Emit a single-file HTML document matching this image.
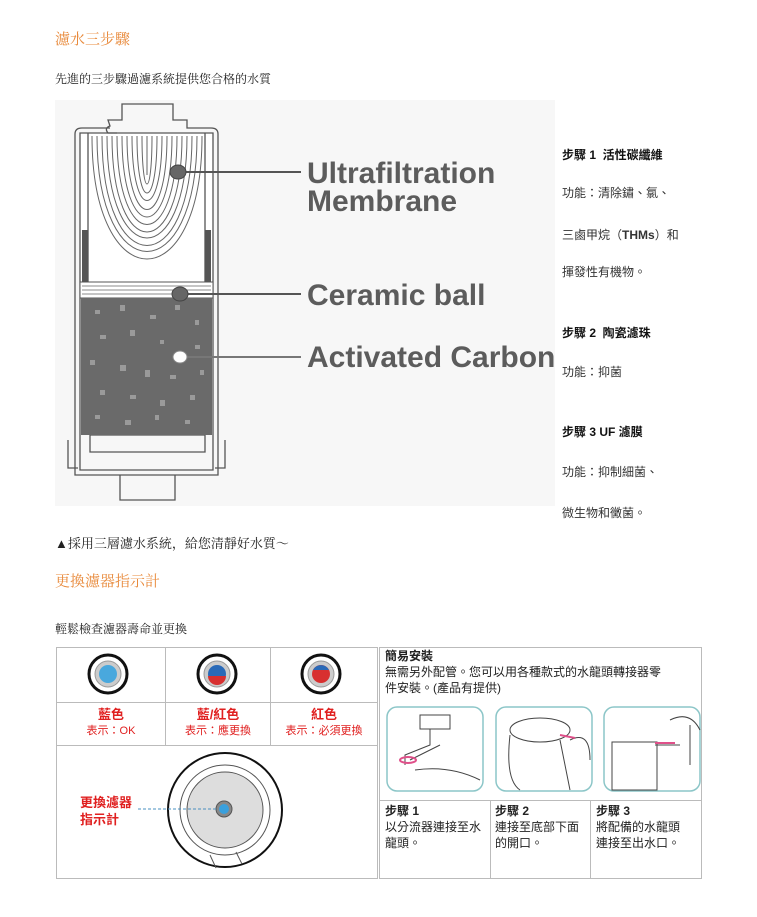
<!DOCTYPE html>
<html><head><meta charset="utf-8">
<style>
body{margin:0;background:#fff;width:757px;height:917px;position:relative;overflow:hidden;font-family:"Liberation Serif","Noto Serif CJK SC",serif;}
.a{position:absolute;white-space:nowrap;}
.t{color:#e8893a;font-size:15px;}
.p{color:#222;font-size:12px;}
.r{font-family:"Liberation Sans","Noto Sans CJK TC",sans-serif;font-size:12px;color:#333;}
.b{font-weight:bold;color:#111;}
.red{color:#e02020;font-family:"Liberation Sans","Noto Sans CJK TC",sans-serif;text-align:center;}
.s{font-family:"Liberation Sans","Noto Sans CJK TC",sans-serif;font-size:12px;color:#222;line-height:16px;}
</style></head><body>
<div class="a t" style="left:55px;top:28px;">濾水三步驟</div>
<div class="a p" style="left:55px;top:70px;">先進的三步驟過濾系統提供您合格的水質</div>

<svg class="a" style="left:55px;top:100px" width="500" height="406" viewBox="55 100 500 406">
<rect x="55" y="100" width="500" height="406" fill="#f7f7f7"/>
<rect x="80" y="133" width="133" height="150" fill="#fff"/>
<g fill="none" stroke="#555" stroke-width="1.3">
<path d="M117 133 L108 133 Q104 128 110 126 L108 120 L122 120 L122 104 L173 104 L173 120 L187 120 L187 128 L211 128 Q218 128 218 134 L218 475 L75 475 L75 134 Q75 128 82 128 L110 128"/>
<path d="M80 133 L213 133 L213 470 L80 470 Z"/>
<path d="M88 133 L88 290 M205 133 L205 290"/>
<path d="M90 435 L205 435 L205 452 L90 452 Z"/>
<path d="M68 440 L68 468 L78 468 M225 440 L225 468 L215 468"/>
<path d="M120 475 L120 500 L175 500 L175 475"/>
</g>
<rect x="82" y="230" width="6" height="60" fill="#555"/><rect x="205" y="230" width="6" height="60" fill="#555"/>
<g fill="none" stroke="#666" stroke-width="1">
<path d="M92 136 C92 300 202 300 202 136"/><path d="M97 136 C97 290 197 290 197 136"/>
<path d="M102 136 C102 282 192 282 192 136"/><path d="M107 136 C107 272 187 272 187 136"/>
<path d="M112 136 C112 264 182 264 182 136"/><path d="M117 136 C117 254 177 254 177 136"/>
<path d="M122 136 C122 244 172 244 172 136"/><path d="M127 136 C127 234 167 234 167 136"/>
<path d="M132 136 C132 222 162 222 162 136"/><path d="M137 136 C137 212 157 212 157 136"/>
<path d="M142 136 C142 200 152 200 152 136"/><path d="M147 136 L147 175"/>
</g>
<rect x="80" y="282" width="133" height="16" fill="#fff" stroke="#555"/>
<g fill="none" stroke="#666" stroke-width="0.8">
<path d="M82 286 H211 M82 290 H211 M82 294 H211"/>
</g>
<rect x="81" y="298" width="131" height="137" fill="#6a6a6a"/>
<g fill="#9a9a9a">
<rect x="95" y="310" width="5" height="4"/><rect x="120" y="305" width="5" height="6"/><rect x="150" y="315" width="6" height="4"/><rect x="175" y="305" width="5" height="5"/><rect x="195" y="320" width="4" height="5"/>
<rect x="100" y="335" width="6" height="4"/><rect x="130" y="330" width="5" height="6"/><rect x="160" y="340" width="4" height="4"/><rect x="195" y="345" width="5" height="4"/>
<rect x="90" y="360" width="5" height="5"/><rect x="120" y="365" width="6" height="6"/><rect x="145" y="370" width="5" height="7"/><rect x="170" y="375" width="6" height="4"/><rect x="200" y="370" width="4" height="5"/>
<rect x="100" y="390" width="5" height="5"/><rect x="130" y="395" width="6" height="4"/><rect x="160" y="400" width="5" height="6"/><rect x="190" y="395" width="5" height="5"/>
<rect x="95" y="415" width="5" height="4"/><rect x="125" y="420" width="6" height="5"/><rect x="155" y="415" width="4" height="5"/><rect x="185" y="420" width="5" height="4"/>
</g>
<g stroke="#555" stroke-width="2"><line x1="180" y1="172" x2="301" y2="172"/><line x1="182" y1="294" x2="301" y2="294"/><line x1="186" y1="357" x2="301" y2="357" stroke="#777"/></g>
<ellipse cx="178" cy="172" rx="8" ry="7" fill="#666" stroke="#444"/>
<ellipse cx="180" cy="294" rx="8" ry="7" fill="#666" stroke="#444"/>
<ellipse cx="180" cy="357" rx="7" ry="6" fill="#fff" stroke="#888"/>
<g font-family="Liberation Sans, sans-serif" font-weight="bold" font-size="30" fill="#5c5c5c">
<text x="307" y="183">Ultrafiltration</text><text x="307" y="211">Membrane</text>
<text x="307" y="305">Ceramic ball</text><text x="307" y="367">Activated Carbon</text>
</g>
</svg>

<div class="a r b" style="left:562px;top:146px;">步驟 1 &nbsp;活性碳纖維</div>
<div class="a r" style="left:562px;top:184px;">功能：清除鏽、氯、</div>
<div class="a r" style="left:562px;top:226px;">三鹵甲烷（<b>THMs</b>）和</div>
<div class="a r" style="left:562px;top:263px;">揮發性有機物。</div>
<div class="a r b" style="left:562px;top:324px;">步驟 2 &nbsp;陶瓷濾珠</div>
<div class="a r" style="left:562px;top:363px;">功能：抑菌</div>
<div class="a r b" style="left:562px;top:423px;">步驟 3 UF 濾膜</div>
<div class="a r" style="left:562px;top:463px;">功能：抑制細菌、</div>
<div class="a r" style="left:562px;top:504px;">微生物和黴菌。</div>

<div class="a p" style="left:55px;top:533px;font-size:13px;">▲採用三層濾水系統，給您清靜好水質～</div>
<div class="a t" style="left:55px;top:570px;">更換濾器指示計</div>
<div class="a p" style="left:55px;top:620px;">輕鬆檢查濾器壽命並更換</div>

<svg class="a" style="left:0;top:0" width="757" height="917">
<g fill="none" stroke="#bbb" stroke-width="1">
<rect x="56.5" y="647.5" width="321" height="231"/>
<line x1="56" y1="702.5" x2="378" y2="702.5"/><line x1="56" y1="745.5" x2="378" y2="745.5"/>
<line x1="165.5" y1="647" x2="165.5" y2="745"/><line x1="270.5" y1="647" x2="270.5" y2="745"/>
<rect x="379.5" y="647.5" width="322" height="231"/>
<line x1="379" y1="800.5" x2="702" y2="800.5"/>
<line x1="490.5" y1="800" x2="490.5" y2="878"/><line x1="590.5" y1="800" x2="590.5" y2="878"/>
</g>
<g>
<circle cx="108" cy="674" r="19" fill="#fff" stroke="#111" stroke-width="3"/><circle cx="108" cy="674" r="13" fill="#ccc" stroke="#999"/><circle cx="108" cy="674" r="9" fill="#49a8dd"/>
<circle cx="217" cy="674" r="19" fill="#fff" stroke="#111" stroke-width="3"/><circle cx="217" cy="674" r="13" fill="#ccc" stroke="#999"/><circle cx="217" cy="674" r="9" fill="#2a6ab8"/><path d="M208 676 H226 A9 9 0 0 1 208 676Z" fill="#d83030"/>
<circle cx="321" cy="674" r="19" fill="#fff" stroke="#111" stroke-width="3"/><circle cx="321" cy="674" r="13" fill="#ccc" stroke="#999"/><circle cx="321" cy="674" r="9" fill="#d83030"/><path d="M313 670 H329 A9 9 0 0 0 313 670Z" fill="#2a6ab8"/>
</g>
<circle cx="225" cy="810" r="57" fill="#fff" stroke="#111" stroke-width="2"/>
<circle cx="225" cy="810" r="45" fill="none" stroke="#555"/>
<circle cx="225" cy="810" r="38" fill="#ddd" stroke="#555"/>
<line x1="210" y1="855" x2="216" y2="868" stroke="#555"/><line x1="236" y1="852" x2="242" y2="864" stroke="#555"/>
<circle cx="224" cy="809" r="8" fill="#888" stroke="#555"/><circle cx="224" cy="809" r="5" fill="#3aa0dd"/>
<line x1="138" y1="809" x2="216" y2="809" stroke="#4a90c0" stroke-dasharray="3,2"/>
<g fill="#fff" stroke="#8cc6c8" stroke-width="1.5">
<rect x="387" y="707" width="96" height="84" rx="10"/><rect x="496" y="707" width="96" height="84" rx="10"/><rect x="604" y="707" width="96" height="84" rx="10"/>
</g>
<g fill="none" stroke="#444" stroke-width="1">
<rect x="420" y="715" width="30" height="14"/><path d="M430 729 V745 L405 755 V765 M440 745 L410 760"/><path d="M415 770 Q450 765 480 780"/>
<ellipse cx="540" cy="730" rx="30" ry="12"/><path d="M510 735 Q505 780 520 790 M560 740 L570 790"/><path d="M570 740 Q590 730 590 760"/>
<rect x="612" y="742" width="45" height="48"/><path d="M655 745 H680 M690 725 V765 M670 720 Q690 710 700 730"/>
</g>
<path d="M560 735 L575 738" stroke="#e0508a" stroke-width="2"/><path d="M655 743 L675 743" stroke="#e0508a" stroke-width="2"/><ellipse cx="408" cy="760" rx="8" ry="3" fill="none" stroke="#e0508a" stroke-width="2"/>
</svg>

<div class="a red" style="left:57px;width:108px;top:707px;font-size:13px;line-height:15px;"><b>藍色</b><br><span style="font-size:11px">表示：OK</span></div>
<div class="a red" style="left:166px;width:104px;top:707px;font-size:13px;line-height:15px;"><b>藍/紅色</b><br><span style="font-size:11px">表示：應更換</span></div>
<div class="a red" style="left:271px;width:106px;top:707px;font-size:13px;line-height:15px;"><b>紅色</b><br><span style="font-size:11px">表示：必須更換</span></div>
<div class="a red" style="left:80px;top:794px;font-size:13px;line-height:17px;text-align:left;font-weight:bold;">更換濾器<br>指示計</div>

<div class="a s" style="left:385px;top:648px;"><b>簡易安裝</b><br>無需另外配管。您可以用各種款式的水龍頭轉接器零<br>件安裝。(產品有提供)</div>
<div class="a s" style="left:385px;top:803px;"><b>步驟 1</b><br>以分流器連接至水<br>龍頭。</div>
<div class="a s" style="left:495px;top:803px;"><b>步驟 2</b><br>連接至底部下面<br>的開口。</div>
<div class="a s" style="left:596px;top:803px;"><b>步驟 3</b><br>將配備的水龍頭<br>連接至出水口。</div>
</body></html>
